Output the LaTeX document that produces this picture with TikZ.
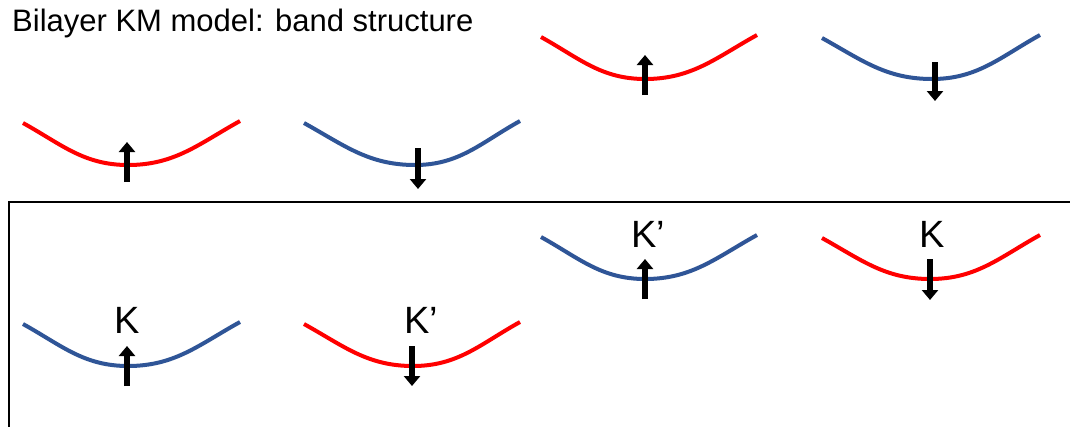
\documentclass[tikz,border=0pt]{standalone}
\usepackage{fontspec}
\setmainfont{Liberation Sans}
\usetikzlibrary{arrows.meta}
\definecolor{bandred}{RGB}{255,0,0}
\definecolor{bandblue}{RGB}{47,85,151}
\tikzset{
  band/.style={line width=4pt},
  spin/.style={line width=6.5pt,-{Triangle[width=16pt,length=10pt]}},
  lbl/.style={inner sep=0pt,anchor=base west,font=\fontsize{38}{40}\selectfont},
}
\begin{document}
\begin{tikzpicture}[x=1pt,y=-1pt]
\useasboundingbox (0,0) rectangle (1070,426);
\fill[white] (0,0) rectangle (1070,426);
\node[inner sep=0pt,anchor=base west,font=\fontsize{31}{34}\selectfont] (title) at (12,31) {Bilayer KM model: band structure};
% frame
\draw[line width=1.8pt] (1080,202) -- (9,202) -- (9,440);
% top row lower
\coordinate (a1) at (23,123); \coordinate (m1) at (128,165); \coordinate (b1) at (240,121);
\draw[band,bandred] (a1) to[out=-29,in=180] (m1) to[out=0,in=-151] (b1);
\coordinate (s1) at (127,182); \coordinate (t1) at (127,142);
\draw[spin] (s1) -- (t1);
\coordinate (a2) at (304,123); \coordinate (m2) at (415,165); \coordinate (b2) at (520,121);
\draw[band,bandblue] (a2) to[out=-29,in=180] (m2) to[out=0,in=-151] (b2);
\coordinate (s2) at (418,148); \coordinate (t2) at (418,189);
\draw[spin] (s2) -- (t2);
% top row upper
\coordinate (a3) at (541,37); \coordinate (m3) at (645,79); \coordinate (b3) at (757,35);
\draw[band,bandred] (a3) to[out=-29,in=180] (m3) to[out=0,in=-151] (b3);
\coordinate (s3) at (645,95); \coordinate (t3) at (645,55);
\draw[spin] (s3) -- (t3);
\coordinate (a4) at (822,38); \coordinate (m4) at (932,79); \coordinate (b4) at (1040,35);
\draw[band,bandblue] (a4) to[out=-29,in=180] (m4) to[out=0,in=-151] (b4);
\coordinate (s4) at (935,62); \coordinate (t4) at (935,101);
\draw[spin] (s4) -- (t4);
% bottom row lower
\coordinate (a5) at (23,324); \coordinate (m5) at (128,366); \coordinate (b5) at (240,322);
\draw[band,bandblue] (a5) to[out=-29,in=180] (m5) to[out=0,in=-151] (b5);
\coordinate (s5) at (127,386); \coordinate (t5) at (127,346);
\draw[spin] (s5) -- (t5);
\node[lbl] (k5) at (114,333) {K};
\coordinate (a6) at (304,324); \coordinate (m6) at (413,366); \coordinate (b6) at (520,322);
\draw[band,bandred] (a6) to[out=-29,in=180] (m6) to[out=0,in=-151] (b6);
\coordinate (s6) at (412,346); \coordinate (t6) at (412,386);
\draw[spin] (s6) -- (t6);
\node[lbl] (k6) at (404,333) {K’};
% bottom row upper
\coordinate (a7) at (541,237); \coordinate (m7) at (645,279); \coordinate (b7) at (757,235);
\draw[band,bandblue] (a7) to[out=-29,in=180] (m7) to[out=0,in=-151] (b7);
\coordinate (s7) at (645,299); \coordinate (t7) at (645,259);
\draw[spin] (s7) -- (t7);
\node[lbl] (k7) at (631,247) {K’};
\coordinate (a8) at (822,238); \coordinate (m8) at (930,279); \coordinate (b8) at (1040,235);
\draw[band,bandred] (a8) to[out=-29,in=180] (m8) to[out=0,in=-151] (b8);
\coordinate (s8) at (930,259); \coordinate (t8) at (930,300);
\draw[spin] (s8) -- (t8);
\node[lbl] (k8) at (919,247) {K};
\end{tikzpicture}
\end{document}
